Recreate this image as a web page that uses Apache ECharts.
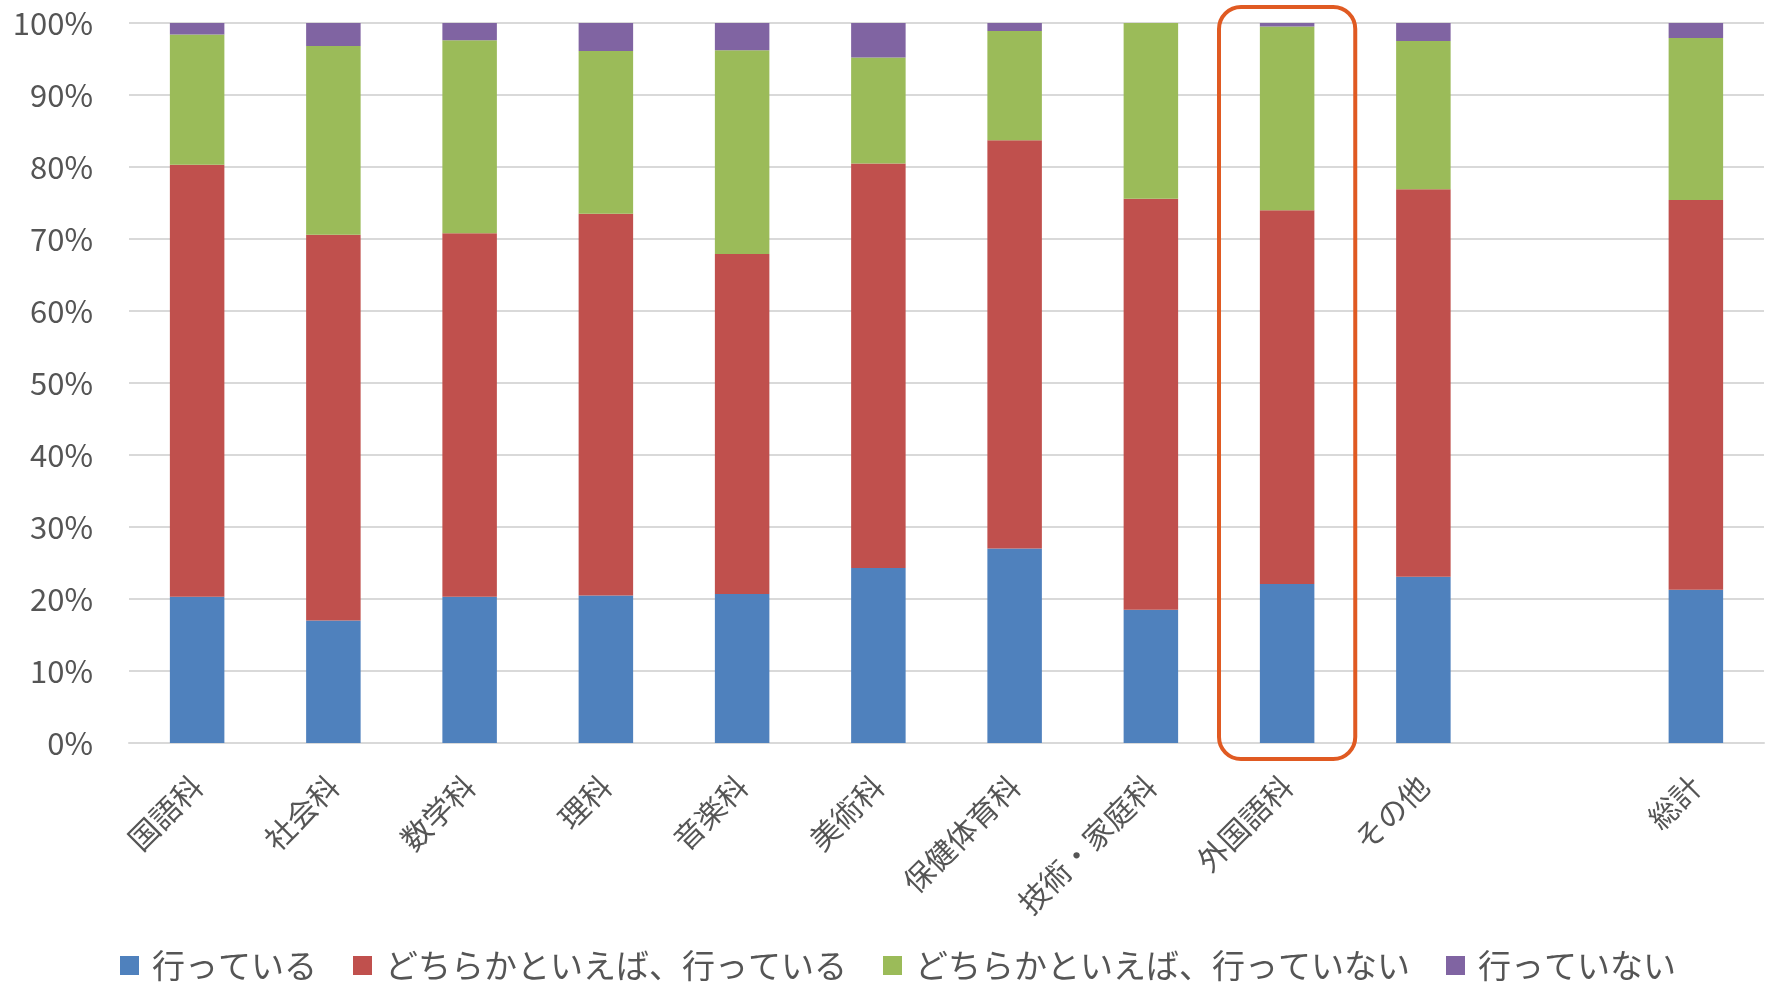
<!DOCTYPE html>
<html>
<head>
<meta charset="utf-8">
<script src="https://cdn.jsdelivr.net/npm/echarts@6.0.0/dist/echarts.min.js"></script>
<style>
html, body { margin: 0; padding: 0; background: #fff; }
#chart { width: 1769px; height: 984px; }
</style>
</head>
<body>
<div id="chart"></div>
<script>
// カテゴリ (空欄は総計の前の空き)
let categories = ['国語科', '社会科', '数学科', '理科', '音楽科', '美術科', '保健体育科', '技術・家庭科', '外国語科', 'その他', '', '総計']
let seriesNames = ['行っている', 'どちらかといえば、行っている', 'どちらかといえば、行っていない', '行っていない']

// 各回答の割合 (%)
let doing = [20.3, 17.0, 20.3, 20.5, 20.7, 24.3, 27.0, 18.5, 22.1, 23.1, null, 21.3]
let ratherDoing = [60.0, 53.6, 50.5, 53.0, 47.2, 56.2, 56.7, 57.1, 51.9, 53.8, null, 54.1]
let ratherNotDoing = [18.1, 26.2, 26.8, 22.6, 28.3, 14.7, 15.2, 24.4, 25.5, 20.6, null, 22.5]
let notDoing = [1.6, 3.2, 2.4, 3.9, 3.8, 4.8, 1.1, 0, 0.5, 2.5, null, 2.1]

let highlightCategory = '外国語科'

let colors = ['#4f81bd', '#c0504d', '#9bbb59', '#8064a2']
let font = '"Noto Sans CJK JP", "Noto Sans", sans-serif'
let textColor = '#555555'

let makeSeries = (name, data) => ({
    name: name,
    type: 'bar',
    stack: 'total',
    barWidth: '40%',
    data: data
})

let option = {
    animation: false,
    color: colors,
    textStyle: { fontFamily: font },
    grid: { left: 129, right: 5, top: 23, bottom: 241, containLabel: false },
    legend: {
        left: 115,
        top: 944,
        icon: 'rect',
        itemWidth: 19,
        itemHeight: 19,
        itemGap: 36,
        textStyle: { fontSize: 33, color: textColor, fontFamily: font, padding: [0, 0, 0, 8] },
        data: seriesNames
    },
    xAxis: {
        type: 'category',
        data: categories,
        axisLine: { lineStyle: { color: '#d9d9d9', width: 2 } },
        axisTick: { show: false },
        axisLabel: { interval: 0, rotate: 45, margin: 38, fontSize: 30, color: textColor, fontFamily: font }
    },
    yAxis: {
        type: 'value',
        min: 0,
        max: 100,
        interval: 10,
        axisLine: { show: false },
        axisTick: { show: false },
        splitLine: { lineStyle: { color: '#d9d9d9', width: 2 } },
        axisLabel: { formatter: '{value}%', margin: 36, fontSize: 31, color: textColor, fontFamily: font }
    },
    series: [
        makeSeries(seriesNames[0], doing),
        makeSeries(seriesNames[1], ratherDoing),
        makeSeries(seriesNames[2], ratherNotDoing),
        makeSeries(seriesNames[3], notDoing)
    ]
}

let chart = echarts.init(document.getElementById('chart'))
chart.setOption(option)

// 強調枠 (外国語科) を軸から位置計算して描く
let idx = categories.indexOf(highlightCategory)
let p0 = chart.convertToPixel({ xAxisIndex: 0, yAxisIndex: 0 }, [idx, 0])
let p100 = chart.convertToPixel({ xAxisIndex: 0, yAxisIndex: 0 }, [idx, 100])
let pNext = chart.convertToPixel({ xAxisIndex: 0, yAxisIndex: 0 }, [idx + 1, 0])
let catWidth = pNext[0] - p0[0]
let pad = 16

chart.setOption({
    graphic: [{
        type: 'rect',
        shape: {
            x: p0[0] - catWidth / 2,
            y: p100[1] - pad,
            width: catWidth,
            height: p0[1] - p100[1] + pad * 2,
            r: 22
        },
        style: { fill: 'none', stroke: '#e05a22', lineWidth: 4 },
        z: 100
    }]
})
</script>
</body>
</html>
